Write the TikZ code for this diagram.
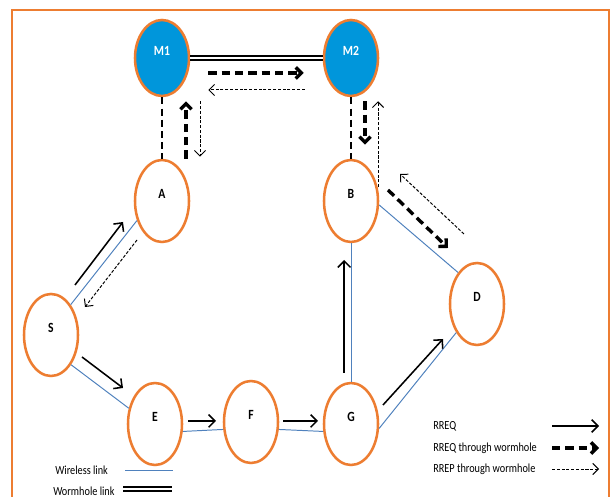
\documentclass[tikz,border=0pt]{standalone}
\usepackage{fontspec}
\setmainfont{Carlito}[FakeStretch=0.83]
\usepackage{tikz}
\usetikzlibrary{arrows.meta, positioning, calc, shapes.geometric}
\definecolor{nodeorange}{RGB}{237,125,49}
\definecolor{wormblue}{RGB}{0,150,219}
\definecolor{linkblue}{RGB}{79,129,189}

\begin{document}
\begin{tikzpicture}[
  peer/.style={draw=nodeorange, line width=1.8pt, ellipse, fill=white, inner sep=0pt,
    minimum width=1.35cm, minimum height=2.05cm, font=\bfseries,
    text height=0.25cm, text depth=0.35cm},
  mal/.style={peer, fill=wormblue, text=white, minimum height=1.9cm},
  wire/.style={linkblue, line width=0.7pt},
  worm/.style={double, double distance=1.1pt, line width=1.3pt},
  tunnel/.style={line width=1.6pt, dash pattern=on 5pt off 3pt},
  rreq/.style={line width=1.1pt, -{Straight Barb[length=4.5pt, width=9pt]}},
  rreqw/.style={line width=2.4pt, dash pattern=on 6pt off 3.5pt,
    -{Straight Barb[length=4pt, width=8pt]}},
  rrep/.style={line width=0.7pt, dash pattern=on 2.2pt off 1.2pt,
    -{Straight Barb[length=4pt, width=8pt]}},
  legend/.style={font=\fontsize{8.8}{10}\selectfont, anchor=west, inner sep=0pt}
]
  \useasboundingbox (0,0) rectangle (15.3,12.425);
  % Frame
  \draw[nodeorange, line width=1.4pt] (0.3,0) -- (0.3,12.175) -- (15.225,12.175) -- (15.225,0);

  % Wormhole nodes
  \node[mal] (M1) at (4.05,10.975) {M1};
  \node[mal] (M2) at (8.775,10.975) {M2};

  % Ordinary nodes
  \node[peer] (A) at (4.05,7.4) {A};
  \node[peer] (B) at (8.775,7.4) {B};
  \node[peer] (S) at (1.275,4.05) {S};
  \node[peer] (E) at (3.875,1.825) {E};
  \node[peer] (F) at (6.275,1.875) {F};
  \node[peer] (G) at (8.775,1.825) {G};
  \node[peer] (D) at (11.925,4.825) {D};

  % Links
  \draw[worm] (M1) -- (M2);
  \draw[tunnel] (M1) -- (A);
  \draw[tunnel] (M2) -- (B);
  \draw[wire] (S.57) -- (A.218);
  \draw[wire] (S.-56) -- (E.149);
  \draw[wire] (E.-15) -- (F.195);
  \draw[wire] (F.-15) -- (G.195);
  \draw[wire] (G) -- (B);
  \draw[wire] (G.-9) -- (D.234);
  \draw[wire] (B.-8) -- (D.121);

  % RREQ
  \draw[rreq] ($(S)+(0.6,1.25)$) -- ($(A)+(-0.975,-0.525)$);
  \draw[rreq] ($(S)+(0.775,-0.55)$) -- ($(E)+(-0.8,0.9)$);
  \draw[rreq] ($(E)+(0.825,0.075)$) -- ($(F)+(-0.875,0.025)$);
  \draw[rreq] ($(F)+(0.8,0.025)$) -- ($(G)+(-0.825,0.075)$);
  \draw[rreq] ($(G)+(-0.17,1.275)$) -- ($(B)+(-0.17,-1.475)$);
  \draw[rreq] ($(G)+(0.8,0.475)$) -- ($(D)+(-0.85,-0.875)$);

  % RREQ through wormhole
  \draw[rreqw] ($(A.north)+(0.6,0)$) -- ($(M1.south)+(0.6,-0.1)$);
  \draw[rreqw] ($(M1.east)+(0.45,-0.375)$) -- ($(M2.west)+(-0.475,-0.375)$);
  \draw[rreqw] ($(M2.south)+(0.35,-0.1)$) -- ($(B.north)+(0.35,0.35)$);
  \draw[rreqw] ($(B)+(0.925,0.275)$) -- ($(D)+(-0.725,1.4)$);

  % RREP through wormhole
  \draw[rrep] ($(D)+(-0.325,1.75)$) -- ($(B)+(1.225,0.675)$);
  \draw[rrep] ($(M2.south)+(0.675,-2.25)$) -- ($(M2.south)+(0.675,-0.1)$);
  \draw[rrep] ($(M2.west)+(-0.45,-0.8)$) -- ($(M1.east)+(0.45,-0.8)$);
  \draw[rrep] ($(M1.south)+(0.95,-0.1)$) -- ($(A.north)+(0.95,0.05)$);
  \draw[rrep] ($(A)+(-0.625,-0.975)$) -- ($(S)+(0.85,0.7)$);

  % Legend
  \node[legend] (lReq) at (10.825,1.775) {RREQ};
  \node[legend] (lReqW) at (10.825,1.225) {RREQ through wormhole};
  \node[legend] (lRep) at (10.825,0.7) {RREP through wormhole};
  \draw[rreq] ($(lReq.west)+(2.975,0)$) -- ++(1.175,0);
  \draw[rreqw] ($(lReqW.west)+(2.975,0)$) -- ++(1.175,0);
  \draw[rrep] ($(lRep.west)+(2.975,0)$) -- ++(1.175,0);
  \node[legend] (lWire) at (1.375,0.675) {Wireless link};
  \node[legend] (lWorm) at (1.325,0.15) {Wormhole link};
  \draw[wire] ($(lWire.west)+(1.75,0)$) -- ++(1.2,0);
  \draw[worm] ($(lWorm.west)+(1.75,0.05)$) -- ++(1.225,0);
\end{tikzpicture}
\end{document}
